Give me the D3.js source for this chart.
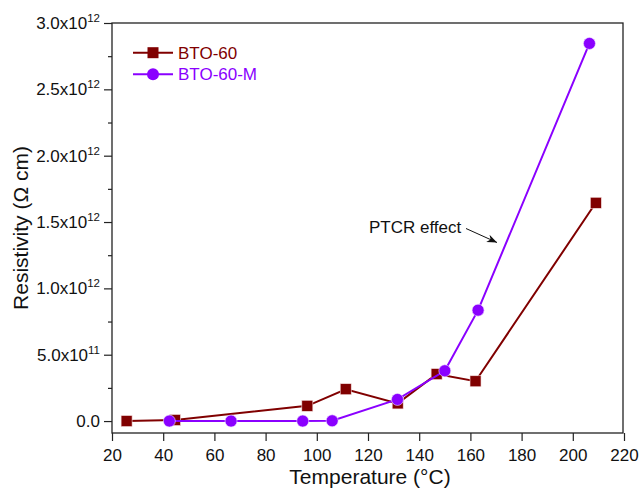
<!DOCTYPE html>
<html><head><meta charset="utf-8">
<script src="https://cdn.jsdelivr.net/npm/d3@7"></script>
<style>body{margin:0;background:#fff}svg{display:block}text{font-family:"Liberation Sans",Arial,sans-serif}</style>
</head><body>
<script>
const seriesNames = ["BTO-60", "BTO-60-M"];
const bto60X = [25.7, 44.6, 96.3, 111.3, 131.6, 146.8, 162, 209];
const bto60Y = [0, 0.008e12, 0.115e12, 0.24e12, 0.133e12, 0.354e12, 0.30e12, 1.645e12];
const bto60mX = [42.4, 66.5, 94.5, 106, 131.5, 150, 163, 206.5];
const bto60mY = [0, 0, 0, 0.002e12, 0.163e12, 0.379e12, 0.836e12, 2.846e12];
const xTicks = [20, 40, 60, 80, 100, 120, 140, 160, 180, 200, 220];
const yTicks = [0, 0.5e12, 1.0e12, 1.5e12, 2.0e12, 2.5e12, 3.0e12];
const yTickLabels = [["0.0", ""], ["5.0x10", "11"], ["1.0x10", "12"], ["1.5x10", "12"], ["2.0x10", "12"], ["2.5x10", "12"], ["3.0x10", "12"]];
const yMinorTicks = [0.25e12, 0.75e12, 1.25e12, 1.75e12, 2.25e12, 2.75e12];
const colors = ["#800000", "#8a00ff"];

const W = 640, H = 492;
const L = 112, R = 623, T = 23, B = 433;
const svg = d3.select("body").append("svg").attr("width", W).attr("height", H);
const x = d3.scaleLinear().domain([20, 220]).range([L, 624]);
const y = d3.scaleLinear().domain([-0.09e12, 3.0e12]).range([B, T]);

// frame
svg.append("rect").attr("x", L).attr("y", T).attr("width", R - L).attr("height", B - T)
  .attr("fill", "none").attr("stroke", "#222").attr("stroke-width", 1.3);

// x axis
const xAxis = svg.append("g").attr("transform", `translate(0,${B})`)
  .call(d3.axisBottom(x).tickValues(xTicks).tickSize(8).tickSizeOuter(0).tickPadding(4));
xAxis.select(".domain").remove();
xAxis.selectAll("line").attr("stroke", "#222").attr("stroke-width", 1.2);
xAxis.selectAll("text").attr("font-size", 17).attr("fill", "#111").attr("dy", null).attr("y", 28);

// y axis
const yAxis = svg.append("g").attr("transform", `translate(${L},0)`)
  .call(d3.axisLeft(y).tickValues(yTicks).tickSize(8).tickSizeOuter(0).tickFormat(() => ""));
yAxis.select(".domain").remove();
yAxis.selectAll("line").attr("stroke", "#222").attr("stroke-width", 1.2);
const yMinor = svg.append("g").attr("transform", `translate(${L},0)`)
  .call(d3.axisLeft(y).tickValues(yMinorTicks).tickSize(4).tickSizeOuter(0).tickFormat(() => ""));
yMinor.select(".domain").remove();
yMinor.selectAll("line").attr("stroke", "#222").attr("stroke-width", 1.2);

yTicks.forEach((v, i) => {
  const [m, e] = yTickLabels[i];
  const t = svg.append("text").attr("x", 100).attr("y", y(v) + 6).attr("text-anchor", "end")
    .attr("font-size", 17).attr("fill", "#111");
  t.append("tspan").text(m);
  if (e) t.append("tspan").attr("dy", -7).attr("font-size", 11.5).text(e);
});

// axis titles
svg.append("text").attr("x", 370).attr("y", 484).attr("text-anchor", "middle")
  .attr("font-size", 21).attr("fill", "#111").text("Temperature (°C)");
svg.append("text").attr("transform", `translate(28,${(T + B) / 2}) rotate(-90)`)
  .attr("text-anchor", "middle").attr("font-size", 21).attr("fill", "#111").text("Resistivity (Ω cm)");

// series
const line = d3.line().x(d => x(d[0])).y(d => y(d[1]));
const d1 = bto60X.map((v, i) => [v, bto60Y[i]]);
const d2 = bto60mX.map((v, i) => [v, bto60mY[i]]);

svg.append("path").datum(d1).attr("d", line).attr("fill", "none").attr("stroke", colors[0]).attr("stroke-width", 2);
svg.selectAll(".sq").data(d1).enter().append("rect")
  .attr("x", d => x(d[0]) - 5.5).attr("y", d => y(d[1]) - 5.5).attr("width", 11).attr("height", 11)
  .attr("fill", colors[0]).attr("stroke", "#f4dede").attr("stroke-width", 0.6);

svg.append("path").datum(d2).attr("d", line).attr("fill", "none").attr("stroke", colors[1]).attr("stroke-width", 2);
svg.selectAll(".ci").data(d2).enter().append("circle")
  .attr("cx", d => x(d[0])).attr("cy", d => y(d[1])).attr("r", 6)
  .attr("fill", colors[1]).attr("stroke", "#eee0ff").attr("stroke-width", 0.6);

// legend
[0, 1].forEach(i => {
  const ly = 52.7 + i * 21.6;
  svg.append("line").attr("x1", 133).attr("x2", 173).attr("y1", ly).attr("y2", ly)
    .attr("stroke", colors[i]).attr("stroke-width", 2);
  if (i === 0) svg.append("rect").attr("x", 153 - 5.5).attr("y", ly - 5.5).attr("width", 11).attr("height", 11).attr("fill", colors[0]);
  else svg.append("circle").attr("cx", 153).attr("cy", ly).attr("r", 6).attr("fill", colors[1]);
  svg.append("text").attr("x", 178).attr("y", ly + 6).attr("font-size", 17).attr("fill", colors[i]).text(seriesNames[i]);
});

// annotation
svg.append("defs").append("marker").attr("id", "ah").attr("viewBox", "0 0 10 10").attr("refX", 10).attr("refY", 5)
  .attr("markerWidth", 10).attr("markerHeight", 10).attr("markerUnits", "userSpaceOnUse").attr("orient", "auto")
  .append("path").attr("d", "M0,1 L10,5 L0,9 L3,5 Z").attr("fill", "#111");
svg.append("text").attr("x", 369).attr("y", 233).attr("font-size", 17).attr("fill", "#111").text("PTCR effect");
svg.append("line").attr("x1", 466).attr("y1", 228.5).attr("x2", 497).attr("y2", 242.5)
  .attr("stroke", "#111").attr("stroke-width", 1).attr("marker-end", "url(#ah)");
</script>
</body></html>
